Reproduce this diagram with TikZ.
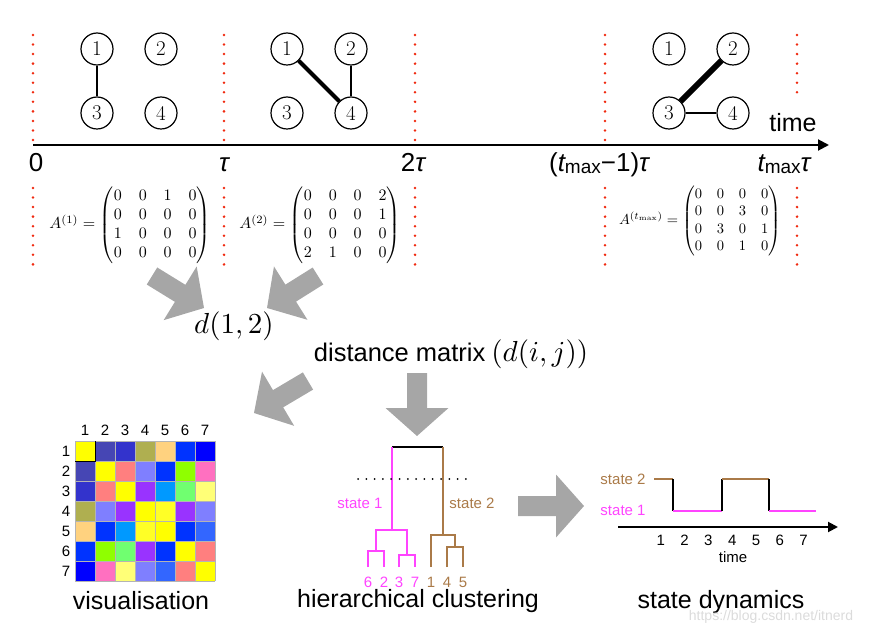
\documentclass[tikz,border=0pt]{standalone}
\usepackage{amsmath}
\usepackage{graphicx}
\usepackage{fontspec}
\usepackage{tikz}
\usetikzlibrary{arrows.meta,calc}
\newfontfamily\arial{Liberation Sans}
\definecolor{tickred}{HTML}{F02A10}
\definecolor{arrowgray}{HTML}{A6A6A6}
\definecolor{stone}{HTML}{FF44FF}
\definecolor{sttwo}{HTML}{AA7A48}
\definecolor{gridgray}{HTML}{B4B4B4}
\definecolor{hmyel}{HTML}{FFFF00}
\definecolor{hmyeltwo}{HTML}{FFFF26}
\definecolor{hmslate}{HTML}{4646B4}
\definecolor{hmdeep}{HTML}{3333CC}
\definecolor{hmolive}{HTML}{AFAF50}
\definecolor{hmpeach}{HTML}{FFD27F}
\definecolor{hmblue}{HTML}{0033FF}
\definecolor{hmpure}{HTML}{0000FF}
\definecolor{hmsalmon}{HTML}{FF7F7F}
\definecolor{hmperi}{HTML}{7F7FFF}
\definecolor{hmlime}{HTML}{8FFF00}
\definecolor{hmpink}{HTML}{FF70C0}
\definecolor{hmviolet}{HTML}{9933FF}
\definecolor{hmsky}{HTML}{0099FF}
\definecolor{hmmint}{HTML}{70FF70}
\definecolor{hmlemon}{HTML}{FFFF77}
\definecolor{hmroyal}{HTML}{3366FF}
\newcommand{\tmax}{{\itshape t}\raisebox{-1.5pt}{\fontsize{19}{20}\selectfont max}}
\newcommand{\fatarrow}[2]{%
  \fill[arrowgray] ($(#1)!10pt!90:(#2)$) -- ($(#2)!28pt!(#1)!10pt!90:(#2)$)
    -- ($(#2)!28pt!(#1)!31.5pt!90:(#2)$) -- (#2)
    -- ($(#2)!28pt!(#1)!31.5pt!-90:(#2)$) -- ($(#2)!28pt!(#1)!10pt!-90:(#2)$)
    -- ($(#1)!10pt!-90:(#2)$) -- cycle;}

\begin{document}
\begin{tikzpicture}[x=1pt,y=-1pt,
    vtx/.style={circle,draw,line width=1.2pt,minimum size=32pt,inner sep=0pt,font=\fontsize{21}{23}\selectfont},
    tickline/.style={tickred,line width=2.8pt,line cap=round,dash pattern=on 0pt off 9.55pt},
    axislbl/.style={anchor=base,font=\arial\fontsize{26}{30}\selectfont},
    sans/.style={font=\arial\fontsize{15}{17}\selectfont},
    biglbl/.style={font=\arial\fontsize{25}{29}\selectfont},
    dendro/.style={line width=2pt},
    stepline/.style={line width=1.8pt}]
        \useasboundingbox (0,0) rectangle (873,636);
        % red separators
        \draw[tickline] (33,35) -- (33,141);
        \draw[tickline] (224,35) -- (224,141);
        \draw[tickline] (415,35) -- (415,141);
        \draw[tickline] (605,35) -- (605,141);
        \draw[tickline] (797,35) -- (797,93);
        \draw[tickline] (33,188) -- (33,265);
        \draw[tickline] (224,188) -- (224,265);
        \draw[tickline] (415,188) -- (415,265);
        \draw[tickline] (605,188) -- (605,265);
        \draw[tickline] (797,188) -- (797,265);
        % time axis
        \coordinate (tstart) at (33,145);
        \coordinate (tend) at (829,145);
        \draw[line width=2pt,-{Triangle[length=11pt,width=11pt]}] (tstart) -- (tend);
        \node[biglbl] (timelbl) at (793,123) {time};
        \node[axislbl] (lbl0) at (36,172) {0};
        \node[axislbl] (lbl1) at (224,172) {{\itshape τ}};
        \node[axislbl] (lbl2) at (413,172) {2{\itshape τ}};
        \node[axislbl] (lbl3) at (599,172) {(\tmax−1){\itshape τ}};
        \node[axislbl] (lbl4) at (784,172) {\tmax{\itshape τ}};
        % networks
        \node[vtx] (ga1) at (97,49) {1};
        \node[vtx] (ga2) at (161,49) {2};
        \node[vtx] (ga3) at (97,113) {3};
        \node[vtx] (ga4) at (161,113) {4};
        \draw[line width=1.5pt] (ga1) -- (ga3);
        \node[vtx] (gb1) at (287,49) {1};
        \node[vtx] (gb2) at (351,49) {2};
        \node[vtx] (gb3) at (287,113) {3};
        \node[vtx] (gb4) at (351,113) {4};
        \draw[line width=4pt] (gb1) -- (gb4);
        \draw[line width=1.5pt] (gb2) -- (gb4);
        \node[vtx] (gc1) at (669,49) {1};
        \node[vtx] (gc2) at (733,49) {2};
        \node[vtx] (gc3) at (669,113) {3};
        \node[vtx] (gc4) at (733,113) {4};
        \draw[line width=6pt] (gc2) -- (gc3);
        \draw[line width=1.5pt] (gc3) -- (gc4);
        % adjacency matrices
        \node (mat1) at (130,225)
          {\scalebox{1.6}{\setlength{\arraycolsep}{5.3pt}$A^{(1)}=\begin{pmatrix}0&0&1&0\\0&0&0&0\\1&0&0&0\\0&0&0&0\end{pmatrix}$}};
        \node (mat2) at (320,225)
          {\scalebox{1.6}{\setlength{\arraycolsep}{5.3pt}$A^{(2)}=\begin{pmatrix}0&0&0&2\\0&0&0&1\\0&0&0&0\\2&1&0&0\end{pmatrix}$}};
        \node (mat3) at (700,221)
          {\scalebox{1.45}{\setlength{\arraycolsep}{5.1pt}$A^{(t_{\max})}=\begin{pmatrix}0&0&0&0\\0&0&3&0\\0&3&0&1\\0&0&1&0\end{pmatrix}$}};
        % distances
        \node (dist) at (234,326) {\scalebox{2.9}{$d(1,2)$}};
        \node (dmat) at (451,354) {{\arial\fontsize{25.5}{30}\selectfont distance matrix}\hspace{6pt}\scalebox{2.9}{$(d(i,j))$}};
        \coordinate (fa1) at (152,276); \coordinate (fa1t) at (204,308);
        \coordinate (fa2) at (318,276); \coordinate (fa2t) at (267,308);
        \coordinate (fa3) at (308,381); \coordinate (fa3t) at (254,413);
        \coordinate (fa4) at (417,373); \coordinate (fa4t) at (417,436);
        \coordinate (fa5) at (518,506); \coordinate (fa5t) at (584,506);
        \fatarrow{fa1}{fa1t}
        \fatarrow{fa2}{fa2t}
        \fatarrow{fa3}{fa3t}
        \fatarrow{fa4}{fa4t}
        \fatarrow{fa5}{fa5t}
        % heat map
        \foreach \row [count=\r] in {
            {hmyel,hmslate,hmdeep,hmolive,hmpeach,hmblue,hmpure},
            {hmslate,hmyel,hmsalmon,hmperi,hmblue,hmlime,hmpink},
            {hmdeep,hmsalmon,hmyel,hmviolet,hmsky,hmmint,hmlemon},
            {hmolive,hmperi,hmviolet,hmyel,hmyeltwo,hmviolet,hmperi},
            {hmpeach,hmblue,hmsky,hmyeltwo,hmyel,hmblue,hmroyal},
            {hmblue,hmlime,hmmint,hmviolet,hmblue,hmyel,hmsalmon},
            {hmpure,hmpink,hmlemon,hmperi,hmroyal,hmsalmon,hmyel}} {
          \foreach \c [count=\k] in \row {
            \fill[\c] (55+20*\k,421+20*\r) rectangle +(20,20);
          }
          \node[sans] at (66,431+20*\r) {\r};
          \node[sans] at (65+20*\r,430) {\r};
        }
        \foreach \i in {0,...,7} {
          \draw[gridgray,line width=0.8pt] (75+20*\i,441) -- (75+20*\i,581);
          \draw[gridgray,line width=0.8pt] (75,441+20*\i) -- (215,441+20*\i);
        }
        \draw[line width=0.8pt] (75,461) -- (95,461) -- (95,441);
        \node[biglbl] (vislbl) at (141,601) {visualisation};
        % dendrogram
        \draw[dendro,line width=2.5pt] (392,447) -- (443,447);
        \draw[dendro,stone] (392,447) -- (392,530) (376,551) -- (376,530) -- (407,530) -- (407,555)
          (368,567) -- (368,551) -- (384,551) -- (384,567)
          (399,567) -- (399,555) -- (415,555) -- (415,567);
        \draw[dendro,sttwo] (443,447) -- (443,535) (431,567) -- (431,535) -- (455,535) -- (455,547)
          (447,567) -- (447,547) -- (463,547) -- (463,567);
        \draw[line width=2pt,line cap=round,dash pattern=on 0pt off 8.3pt] (358,479) -- (474,479);
        \node[sans,text=stone] (cut1) at (360,503) {state 1};
        \node[sans,text=sttwo] (cut2) at (472,503) {state 2};
        \node[sans,text=stone] (leaf6) at (368,582) {6};
        \node[sans,text=stone] (leaf2) at (384,582) {2};
        \node[sans,text=stone] (leaf3) at (399,582) {3};
        \node[sans,text=stone] (leaf7) at (415,582) {7};
        \node[sans,text=sttwo] (leaf1) at (431,582) {1};
        \node[sans,text=sttwo] (leaf4) at (447,582) {4};
        \node[sans,text=sttwo] (leaf5) at (463,582) {5};
        \node[biglbl] (clulbl) at (418,601) {hierarchical clustering};
        % state dynamics
        \node[sans,text=sttwo] (sdtwo) at (623,479) {state 2};
        \node[sans,text=stone] (sdone) at (623,510) {state 1};
        \draw[stepline,sttwo] (654,479) -- (673,479);
        \draw[stepline] (673,479) -- (673,511);
        \draw[stepline,stone] (673,511) -- (722,511);
        \draw[stepline] (722,511) -- (722,479);
        \draw[stepline,sttwo] (722,479) -- (769,479);
        \draw[stepline] (769,479) -- (769,511);
        \draw[stepline,stone] (769,511) -- (816,511);
        \coordinate (sdstart) at (618,527);
        \coordinate (sdend) at (838,527);
        \draw[line width=2pt,-{Triangle[length=10pt,width=10pt]}] (sdstart) -- (sdend);
        \foreach \t in {1,...,7} {
          \node[sans] at (637+23.8*\t,540) {\t};
        }
        \node[sans] (sdtime) at (733,557) {time};
        \node[biglbl] (sdlbl) at (721,602) {state dynamics};
        \node[font=\arial\fontsize{14}{16}\selectfont,text=black!14] (mark) at (771,617) {https://blog.csdn.net/itnerd};
      \end{tikzpicture}
\end{document}
